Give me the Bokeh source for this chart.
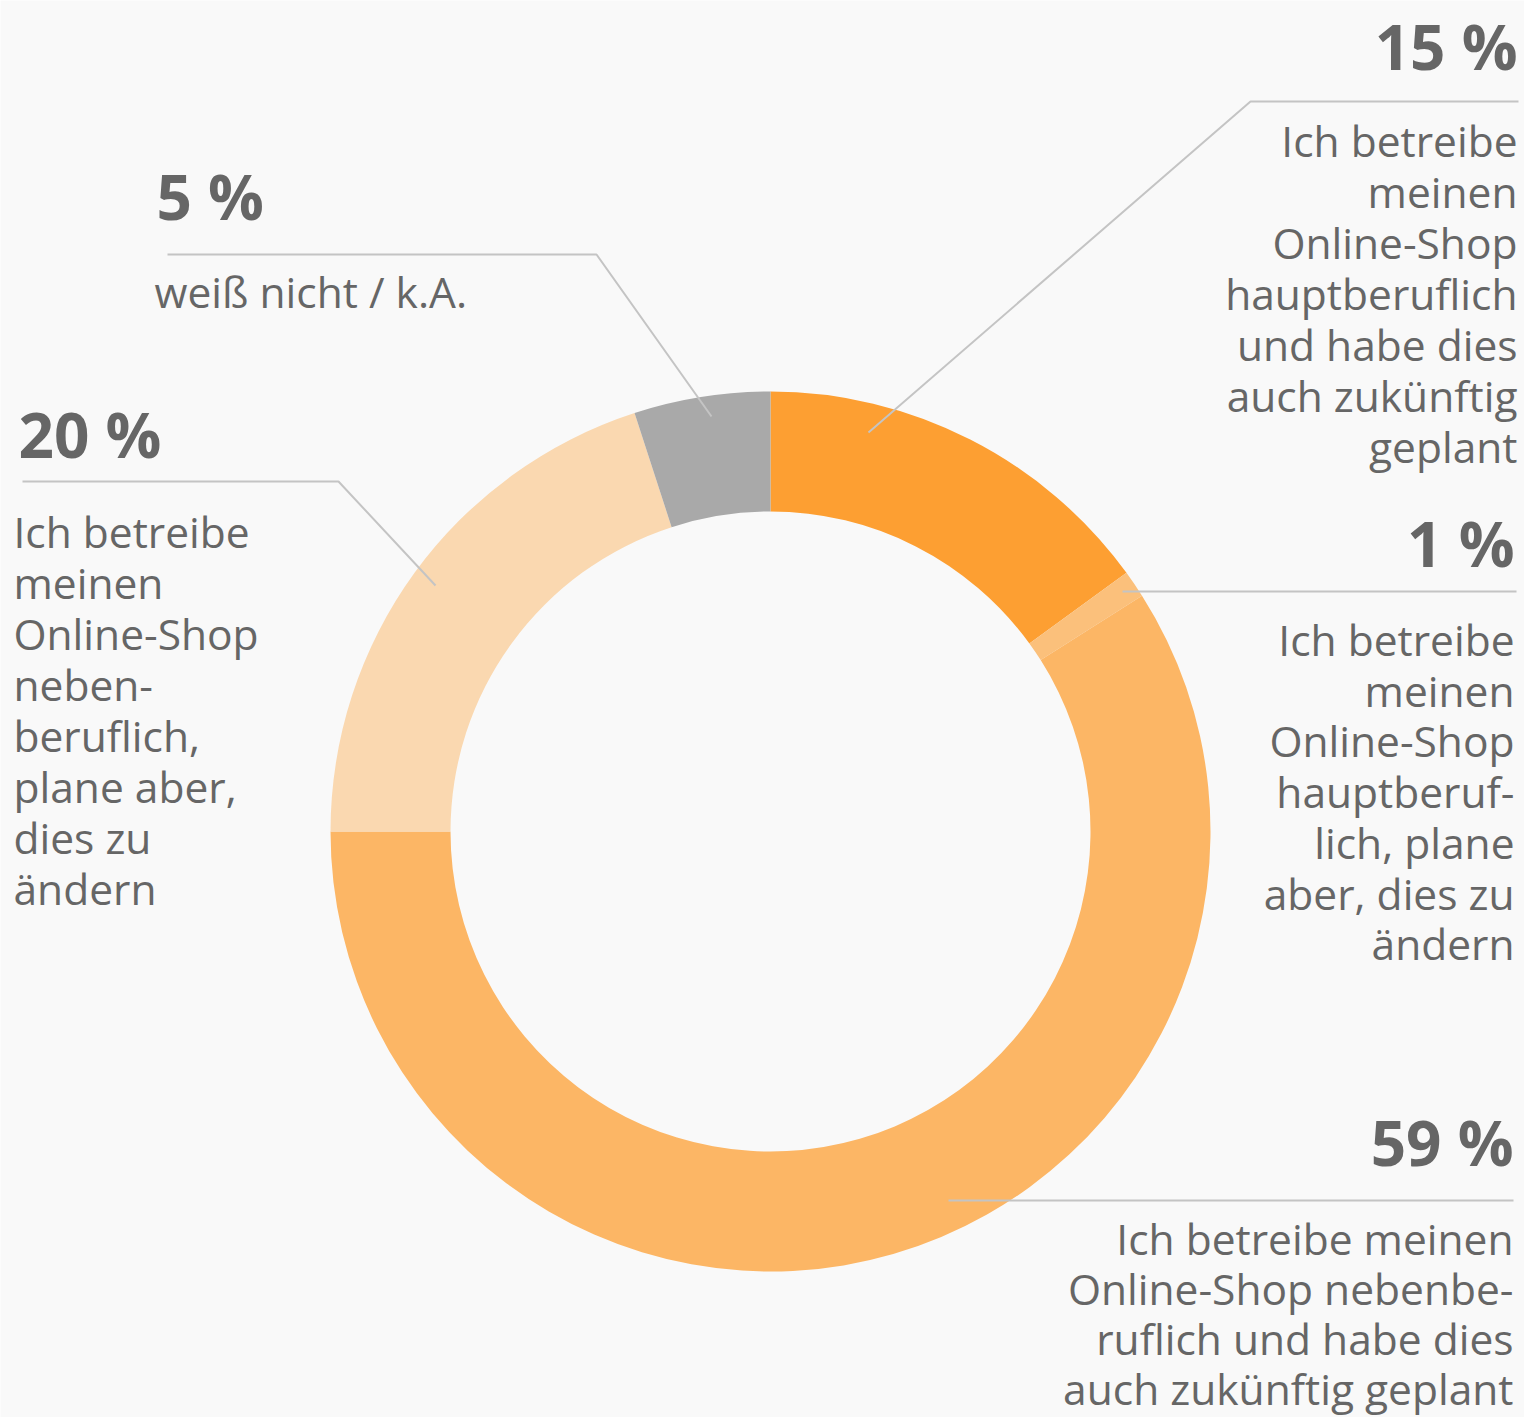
import math
from bokeh.plotting import figure
from bokeh.models import Range1d
from bokeh.core.properties import value
from bokeh.embed import file_html
from bokeh.resources import INLINE

# ---------------- data ----------------
categories = [
    "hauptberuflich, bleibt so",
    "hauptberuflich, plane Änderung",
    "nebenberuflich, bleibt so",
    "nebenberuflich, plane Änderung",
    "weiß nicht / k.A.",
]
shares = [15, 1, 59, 20, 5]
pct_labels = ["15 %", "1 %", "59 %", "20 %", "5 %"]
colors = ["#FD9F32", "#FBC07B", "#FCB665", "#FAD8B0", "#A9A9A9"]
label_lines = [
    ["Ich betreibe", "meinen", "Online-Shop", "hauptberuflich", "und habe dies",
     "auch zukünftig", "geplant"],
    ["Ich betreibe", "meinen", "Online-Shop", "hauptberuf-", "lich, plane",
     "aber, dies zu", "ändern"],
    ["Ich betreibe meinen", "Online-Shop nebenbe-", "ruflich und habe dies",
     "auch zukünftig geplant"],
    ["Ich betreibe", "meinen", "Online-Shop", "neben-", "beruflich,",
     "plane aber,", "dies zu", "ändern"],
    ["weiß nicht / k.A."],
]

# ---------------- layout (reference pixel coordinates) ----------------
W, H = 1524, 1417
BG = "#F9F9F9"
TXT = "#666666"
LINE = "#C4C4C4"
FONT = "Open Sans"
PCT_SIZE, TXT_SIZE = 62, 42.5


def Y(py):
    return H - py


CX, CY = 770, 831
R_OUT, R_IN = 440, 320

# label layout: (pct x, pct baseline, align, text x, first baseline, line step)
label_layout = [
    (1517, 70, "right", 1517, 157, 51),
    (1514, 567, "right", 1514, 656, 50.7),
    (1513, 1166, "right", 1513, 1255, 50),
    (18, 458, "left", 13, 548, 51),
    (156, 220, "left", 154, 308, 51),
]
leader_paths = [
    [(868, 432), (1250, 101), (1518, 101)],
    [(1122, 591), (1516, 591)],
    [(948, 1200), (1513, 1200)],
    [(435, 585), (338, 481), (22, 481)],
    [(711, 416), (596, 254), (167, 254)],
]

p = figure(width=W, height=H, x_range=Range1d(0, W), y_range=Range1d(0, H),
           output_backend="svg", toolbar_location=None, min_border=0)
p.axis.visible = False
p.grid.visible = False
p.outline_line_color = None
p.background_fill_color = BG
p.border_fill_color = BG

# donut
total = sum(shares)
cum = 0.0
starts, ends = [], []
for s in shares:
    a0 = math.pi / 2 - 2 * math.pi * cum / total
    cum += s
    a1 = math.pi / 2 - 2 * math.pi * cum / total
    starts.append(a0)
    ends.append(a1)

p.annular_wedge(x=[CX] * len(shares), y=[Y(CY)] * len(shares),
                inner_radius=R_IN, outer_radius=R_OUT,
                start_angle=starts, end_angle=ends, direction="clock",
                fill_color=colors, line_color=None)

# leader lines
for path in leader_paths:
    p.line([pt[0] for pt in path], [Y(pt[1]) for pt in path],
           line_color=LINE, line_width=2)

# labels (baseline correction for the renderer's alphabetic offset)
FIX = 0.4
for pct, lines, (px, pby, align, tx, tby, step) in zip(pct_labels, label_lines, label_layout):
    p.text(x=[px], y=[Y(pby - FIX * PCT_SIZE)], text=[pct], text_font=value(FONT),
           text_font_style="bold", text_font_size=f"{PCT_SIZE}px", text_color=TXT,
           text_align=align, text_baseline="alphabetic")
    p.text(x=[tx] * len(lines),
           y=[Y(tby + i * step - FIX * TXT_SIZE) for i in range(len(lines))],
           text=lines, text_font=value(FONT), text_font_size=f"{TXT_SIZE}px",
           text_color=TXT, text_align=align, text_baseline="alphabetic")

open("out.html", "w").write(file_html(p, INLINE))
